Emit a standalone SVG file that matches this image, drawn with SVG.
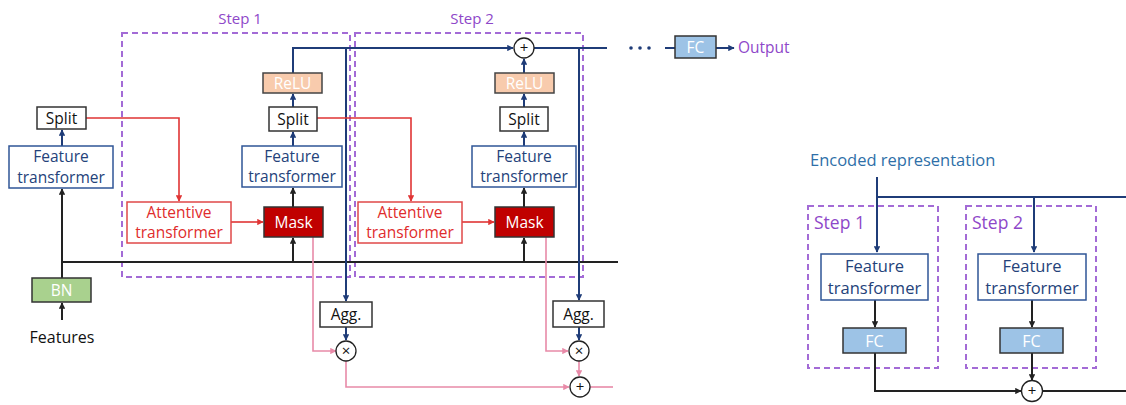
<svg xmlns="http://www.w3.org/2000/svg" width="1126" height="405" viewBox="0 0 1126 405">
  <style>
    text { font-family: "Open Sans", "Liberation Sans", sans-serif; }
    .step { fill: none; stroke: #a36bd6; stroke-width: 2; stroke-dasharray: 6 4; }
    .steplbl { font-size: 15px; fill: #8e47c9; }
    .ft { fill: #fff; stroke: #2f5597; stroke-width: 1.5; }
    .ftt { font-size: 15.5px; fill: #24427a; text-anchor: middle; }
    .plain { fill: #fff; stroke: #333; stroke-width: 1.5; }
    .plaint { font-size: 15.5px; fill: #111; text-anchor: middle; }
    .relu { fill: #f8cbad; stroke: #444; stroke-width: 1.5; }
    .mask { fill: #c00000; stroke: #333; stroke-width: 1.5; }
    .att { fill: #fff; stroke: #e04848; stroke-width: 1.5; }
    .attt { font-size: 15.5px; fill: #e02c2c; text-anchor: middle; }
    .fc { fill: #9dc3e6; stroke: #333; stroke-width: 1.5; }
    .bn { fill: #a9d18e; stroke: #333; stroke-width: 1.5; }
    .lt { font-size: 15.5px; fill: #fff; text-anchor: middle; }
    .op { fill: #fff; stroke: #222; stroke-width: 1.3; }
    .opt { font-size: 15px; fill: #111; text-anchor: middle; }
    .navy { fill: none; stroke: #1f3c78; stroke-width: 2; }
    .blk { fill: none; stroke: #222; stroke-width: 2; }
    .red { fill: none; stroke: #e03535; stroke-width: 1.6; }
    .pink { fill: none; stroke: #e88aa8; stroke-width: 1.6; }
  </style>
  <defs>
    <marker id="aNavy" viewBox="0 0 10 10" refX="9" refY="5" markerWidth="3.2" markerHeight="3.2" orient="auto"><path d="M0,0 L10,5 L0,10 z" fill="#1f3c78"/></marker>
    <marker id="aBlk" viewBox="0 0 10 10" refX="9" refY="5" markerWidth="3.2" markerHeight="3.2" orient="auto"><path d="M0,0 L10,5 L0,10 z" fill="#222"/></marker>
    <marker id="aRed" viewBox="0 0 10 10" refX="9" refY="5" markerWidth="4" markerHeight="4" orient="auto"><path d="M0,0 L10,5 L0,10 z" fill="#e03535"/></marker>
    <marker id="aPink" viewBox="0 0 10 10" refX="9" refY="5" markerWidth="4" markerHeight="4" orient="auto"><path d="M0,0 L10,5 L0,10 z" fill="#e88aa8"/></marker>
  </defs>

  <!-- step frames -->
  <g id="step1-frame">
    <rect class="step" x="122" y="33" width="228" height="244"/>
    <text class="steplbl" x="240" y="24" text-anchor="middle">Step 1</text>
  </g>
  <g id="step2-frame">
    <rect class="step" x="355" y="33" width="228" height="244"/>
    <text class="steplbl" x="472" y="24" text-anchor="middle">Step 2</text>
  </g>
  <g id="dec-step1-frame">
    <rect class="step" x="808" y="206" width="130" height="162"/>
    <text class="steplbl" x="814" y="229" style="font-size:17.5px">Step 1</text>
  </g>
  <g id="dec-step2-frame">
    <rect class="step" x="966" y="206" width="130" height="162"/>
    <text class="steplbl" x="972" y="229" style="font-size:17.5px">Step 2</text>
  </g>

  <!-- connectors -->
  <g id="connectors">
    <!-- input path -->
    <path class="blk" d="M62,320 L62,303" marker-end="url(#aBlk)"/>
    <path class="blk" d="M62,278 L62,189" marker-end="url(#aBlk)"/>
    <path class="blk" d="M62,262 L618,262"/>
    <path class="navy" d="M62,146 L62,130" marker-end="url(#aNavy)"/>
    <!-- step 1 main column -->
    <path class="blk" d="M293,262 L293,238" marker-end="url(#aBlk)"/>
    <path class="blk" d="M293,207 L293,188" marker-end="url(#aBlk)"/>
    <path class="navy" d="M293,146 L293,132" marker-end="url(#aNavy)"/>
    <path class="navy" d="M293,107 L293,94" marker-end="url(#aNavy)"/>
    <path class="navy" d="M293,73 L293,48 L513,48" marker-end="url(#aNavy)"/>
    <path class="navy" d="M346,48 L346,301" marker-end="url(#aNavy)"/>
    <!-- step 2 main column -->
    <path class="blk" d="M524,262 L524,238" marker-end="url(#aBlk)"/>
    <path class="blk" d="M524,207 L524,188" marker-end="url(#aBlk)"/>
    <path class="navy" d="M524,146 L524,132" marker-end="url(#aNavy)"/>
    <path class="navy" d="M524,107 L524,94" marker-end="url(#aNavy)"/>
    <path class="navy" d="M524,73 L524,59" marker-end="url(#aNavy)"/>
    <path class="navy" d="M534,48 L607,48"/>
    <path class="navy" d="M579,48 L579,300" marker-end="url(#aNavy)"/>
    <!-- output head -->
    <circle cx="631" cy="48" r="1.8" fill="#1f3c78"/>
    <circle cx="640" cy="48" r="1.8" fill="#1f3c78"/>
    <circle cx="649" cy="48" r="1.8" fill="#1f3c78"/>
    <path class="navy" d="M665,48 L675,48"/>
    <path class="navy" d="M716,48 L734,48" marker-end="url(#aNavy)"/>
    <!-- attention paths -->
    <path class="red" d="M86,118 L179,118 L179,201" marker-end="url(#aRed)"/>
    <path class="red" d="M231,222 L263,222" marker-end="url(#aRed)"/>
    <path class="red" d="M317,118 L411,118 L411,201" marker-end="url(#aRed)"/>
    <path class="red" d="M462,222 L494,222" marker-end="url(#aRed)"/>
    <!-- aggregation -->
    <path class="navy" d="M346,327 L346,340" marker-end="url(#aNavy)"/>
    <path class="navy" d="M579,327 L579,340" marker-end="url(#aNavy)"/>
    <path class="pink" d="M313,237 L313,351 L336,351" marker-end="url(#aPink)"/>
    <path class="pink" d="M546,237 L546,351 L568,351" marker-end="url(#aPink)"/>
    <path class="pink" d="M346,361 L346,387 L569,387" marker-end="url(#aPink)"/>
    <path class="pink" d="M579,361 L579,376" marker-end="url(#aPink)"/>
    <path class="pink" d="M590,387 L613,387"/>
    <!-- decoder -->
    <path class="navy" d="M877,177 L877,252" marker-end="url(#aNavy)"/>
    <path class="navy" d="M877,197 L1126,197"/>
    <path class="navy" d="M1034,197 L1034,252" marker-end="url(#aNavy)"/>
    <path class="blk" d="M875,300 L875,327" marker-end="url(#aBlk)"/>
    <path class="blk" d="M1032,300 L1032,327" marker-end="url(#aBlk)"/>
    <path class="blk" d="M875,353 L875,391 L1021,391" marker-end="url(#aBlk)"/>
    <path class="blk" d="M1032,353 L1032,380" marker-end="url(#aBlk)"/>
    <path class="blk" d="M1043,391 L1126,391"/>
  </g>

  <!-- input side -->
  <g id="features"><text class="plaint" x="62" y="343" style="font-size:16px">Features</text></g>
  <g id="bn"><rect class="bn" x="32" y="278" width="59" height="24"/><text class="lt" x="61.5" y="295.5">BN</text></g>
  <g id="ft0"><rect class="ft" x="9" y="146" width="104" height="42"/><text class="ftt" x="61" y="162">Feature</text><text class="ftt" x="61" y="182.5">transformer</text></g>
  <g id="split0"><rect class="plain" x="37" y="107" width="49" height="22"/><text class="plaint" x="61.5" y="123.5">Split</text></g>

  <!-- step 1 -->
  <g id="att1"><rect class="att" x="127" y="202" width="104" height="41"/><text class="attt" x="179" y="218">Attentive</text><text class="attt" x="179" y="238">transformer</text></g>
  <g id="mask1"><rect class="mask" x="264" y="207" width="59" height="30"/><text class="lt" x="293.5" y="227.5" fill="#f6dede">Mask</text></g>
  <g id="ft1"><rect class="ft" x="242" y="146" width="100" height="41"/><text class="ftt" x="292" y="161.5">Feature</text><text class="ftt" x="292" y="182">transformer</text></g>
  <g id="split1"><rect class="plain" x="269" y="107" width="48" height="24"/><text class="plaint" x="293" y="124.5">Split</text></g>
  <g id="relu1"><rect class="relu" x="263" y="73" width="59" height="20"/><text class="lt" x="292.5" y="88.5">ReLU</text></g>
  <g id="agg1"><rect class="plain" x="320" y="302" width="52" height="25"/><text class="plaint" x="346" y="320">Agg.</text></g>
  <g id="mul1"><circle class="op" cx="346" cy="351" r="10"/><text class="opt" x="346" y="356">×</text></g>

  <!-- step 2 -->
  <g id="att2"><rect class="att" x="358" y="202" width="104" height="41"/><text class="attt" x="410" y="218">Attentive</text><text class="attt" x="410" y="238">transformer</text></g>
  <g id="mask2"><rect class="mask" x="495" y="207" width="59" height="30"/><text class="lt" x="524.5" y="227.5" fill="#f6dede">Mask</text></g>
  <g id="ft2"><rect class="ft" x="472" y="146" width="104" height="41"/><text class="ftt" x="524" y="161.5">Feature</text><text class="ftt" x="524" y="182">transformer</text></g>
  <g id="split2"><rect class="plain" x="500" y="107" width="48" height="24"/><text class="plaint" x="524" y="124.5">Split</text></g>
  <g id="relu2"><rect class="relu" x="495" y="73" width="59" height="20"/><text class="lt" x="524.5" y="88.5">ReLU</text></g>
  <g id="sum-top"><circle class="op" cx="524" cy="48" r="10"/><text class="opt" x="524" y="53">+</text></g>
  <g id="agg2"><rect class="plain" x="553" y="301" width="51" height="26"/><text class="plaint" x="578.5" y="319.5">Agg.</text></g>
  <g id="mul2"><circle class="op" cx="579" cy="351" r="10"/><text class="opt" x="579" y="356">×</text></g>
  <g id="sum-mask"><circle class="op" cx="580" cy="387" r="10"/><text class="opt" x="580" y="392">+</text></g>

  <!-- output head -->
  <g id="fc-out"><rect class="fc" x="675" y="36" width="41" height="22"/><text class="lt" x="695.5" y="52.5">FC</text></g>
  <g id="output"><text x="738" y="53" font-size="15.5" fill="#8e47c9">Output</text></g>

  <!-- decoder -->
  <g id="encoded"><text x="810" y="166" font-size="16.5" fill="#2e6fa8">Encoded representation</text></g>
  <g id="dft1"><rect class="ft" x="821" y="254" width="107" height="46"/><text class="ftt" x="874.5" y="272" style="font-size:16.5px">Feature</text><text class="ftt" x="874.5" y="294" style="font-size:16.5px">transformer</text></g>
  <g id="dft2"><rect class="ft" x="978" y="254" width="108" height="46"/><text class="ftt" x="1032" y="272" style="font-size:16.5px">Feature</text><text class="ftt" x="1032" y="294" style="font-size:16.5px">transformer</text></g>
  <g id="dfc1"><rect class="fc" x="843" y="328" width="63" height="25"/><text class="lt" x="874.5" y="346.5" style="font-size:16px">FC</text></g>
  <g id="dfc2"><rect class="fc" x="1000" y="328" width="63" height="25"/><text class="lt" x="1031.5" y="346.5" style="font-size:16px">FC</text></g>
  <g id="dsum"><circle class="op" cx="1032" cy="391" r="10.5"/><text class="opt" x="1032" y="396">+</text></g>
</svg>
